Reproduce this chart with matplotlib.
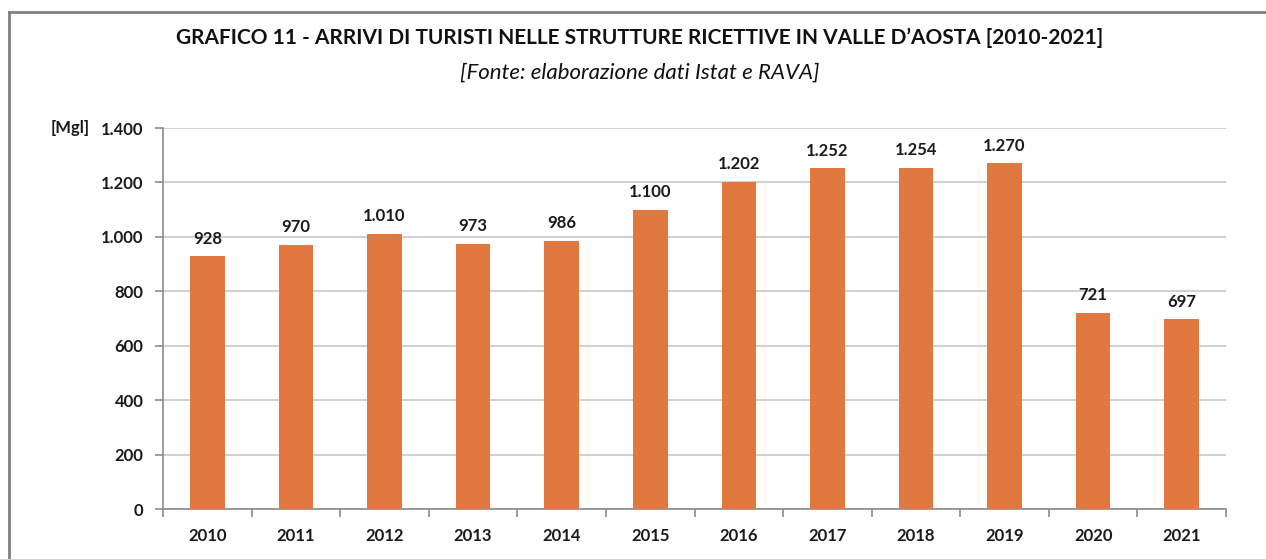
""" Bar chart of tourist arrivals in Valle d'Aosta, 2010-2021 """

import matplotlib.pyplot as plt
from matplotlib.lines import Line2D
from matplotlib.ticker import FuncFormatter

years = ["2010", "2011", "2012", "2013", "2014", "2015",
         "2016", "2017", "2018", "2019", "2020", "2021"]
arrivals = [928, 970, 1010, 973, 986, 1100, 1202, 1252, 1254, 1270, 721, 697]
y_ticks = [0, 200, 400, 600, 800, 1000, 1200, 1400]

title = "GRAFICO 11 - ARRIVI DI TURISTI NELLE STRUTTURE RICETTIVE IN VALLE D\u2019AOSTA [2010-2021]"
subtitle = "[Fonte: elaborazione dati Istat e RAVA]"


def dot_thousands(v, pos=None):
  # Italian style: 1.400 instead of 1,400
  return f"{int(v):,}".replace(",", ".")


plt.rcParams["font.family"] = ["Lato", "DejaVu Sans"]

fig = plt.figure(figsize=(12.66, 5.59), dpi=100)
ax = fig.add_axes([0.1288, 0.0894, 0.8396, 0.6816])

bar_color = "#E0783F"
x = range(len(years))
bars = ax.bar(x, arrivals, width=0.39, color=bar_color, zorder=3)

for b, v in zip(bars, arrivals):
  ax.annotate(dot_thousands(v), (b.get_x() + b.get_width() / 2, v),
              xytext=(0, 7), textcoords="offset points",
              ha="center", va="bottom", fontsize=12, fontweight="bold",
              color="#1a1a1a")

ax.set_xlim(-0.5, len(years) - 0.5)
ax.set_ylim(0, 1400)
ax.set_yticks(y_ticks)
ax.yaxis.set_major_formatter(FuncFormatter(dot_thousands))
ax.set_xticks(list(x))
ax.set_xticklabels(years)
ax.set_xticks([i - 0.5 for i in range(len(years) + 1)], minor=True)

ax.grid(axis="y", color="#c8c8c8", linewidth=1.2, zorder=0)
for side in ["top", "right"]:
  ax.spines[side].set_visible(False)
for side in ["left", "bottom"]:
  ax.spines[side].set_color("#8c8c8c")
  ax.spines[side].set_linewidth(1.2)

ax.tick_params(axis="y", length=6, color="#8c8c8c", width=1.2, pad=8,
               labelsize=12)
ax.tick_params(axis="x", which="major", length=0, pad=14, labelsize=12)
ax.tick_params(axis="x", which="minor", length=6, color="#8c8c8c", width=1.2)
for lbl in ax.get_xticklabels() + ax.get_yticklabels():
  lbl.set_fontweight("bold")
  lbl.set_color("#1a1a1a")

fig.text(90 / 1266, 1 - 128 / 559, "[Mgl]", ha="right", va="center",
         fontsize=12, fontweight="bold", color="#1a1a1a")

fig.text(0.5055, 1 - 38 / 559, title, ha="center", va="center",
         fontsize=15, fontweight="bold", color="#111111")
fig.text(0.5055, 1 - 73 / 559, subtitle, ha="center", va="center",
         fontsize=16, style="italic", color="#111111")

# outer frame of the chart box: only top and left edges fall inside the image
x0, y0 = 9 / 1266, 1 - 12 / 559
fig.lines.append(Line2D([x0, 1.0], [y0, y0], transform=fig.transFigure,
                        color="#7f7f7f", linewidth=2))
fig.lines.append(Line2D([x0, x0], [0.0, y0], transform=fig.transFigure,
                        color="#7f7f7f", linewidth=2))

fig.savefig("out.png", dpi=100)
